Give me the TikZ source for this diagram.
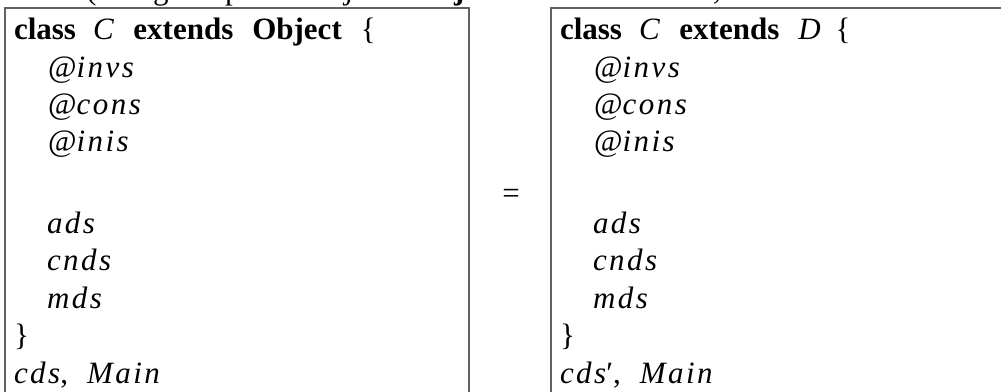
\documentclass[tikz,border=0pt]{standalone}
\usepackage{fontspec}
\setmainfont{Liberation Serif}
\newfontfamily\mifam{Liberation Serif}[LetterSpace=8]
\newcommand{\mi}{\mifam\itshape}
\begin{document}
\begin{tikzpicture}[x=1pt,y=-1pt,
  txt/.style={anchor=base west,inner sep=0pt,outer sep=0pt,font=\fontsize{31}{37}\selectfont},
  frame/.style={draw=black!62,line width=1.3pt}]
\useasboundingbox (0,0) rectangle (1001,391);
\clip (0,0) rectangle (1001,391);
% clipped fragments of the line above
\node[txt] (f1) at (86,-1) {(};
\node[txt] (f2) at (153,-1) {g};
\node[txt] (f3) at (225,-1) {p};
\node[txt] (f4) at (346,-1) {\mi j};
\node[txt] (f5) at (454,-1) {\bfseries j};
\node[txt] (f6) at (713,-1) {\mi ,};
% frames
\draw[frame] (5,8) rectangle (469,420);
\draw[frame] (551,8) rectangle (1030,420);
% left box
\node[txt] (l1) at (14,39) {\textbf{class}\hspace{17pt}{\mi C}\hspace{17pt}\textbf{extends}\hspace{19pt}\textbf{Object}\hspace{19pt}\{};
\node[txt] (l2) at (48,77) {@{\mi invs}};
\node[txt] (l3) at (48,114) {@{\mi cons}};
\node[txt] (l4) at (48,151) {@{\mi inis}};
\node[txt] (l5) at (47,233) {\mi ads};
\node[txt] (l6) at (47,270) {\mi cnds};
\node[txt] (l7) at (47,308) {\mi mds};
\node[txt] (l8) at (14,345) {\}};
\node[txt] (l9) at (14,383) {{\mi cds},\hspace{19pt}{\mi Main}};
% equals
\node[txt,anchor=center] (eq) at (511,196) {=};
% right box
\node[txt] (r1) at (560,39) {\textbf{class}\hspace{17pt}{\mi C}\hspace{17pt}\textbf{extends}\hspace{19pt}{\mi D}\hspace{15pt}\{};
\node[txt] (r2) at (594,77) {@{\mi invs}};
\node[txt] (r3) at (594,114) {@{\mi cons}};
\node[txt] (r4) at (594,151) {@{\mi inis}};
\node[txt] (r5) at (593,233) {\mi ads};
\node[txt] (r6) at (593,270) {\mi cnds};
\node[txt] (r7) at (593,308) {\mi mds};
\node[txt] (r8) at (560,345) {\}};
\node[txt] (r9) at (560,383) {{\mi cds}′,\hspace{19pt}{\mi Main}};
\end{tikzpicture}
\end{document}
